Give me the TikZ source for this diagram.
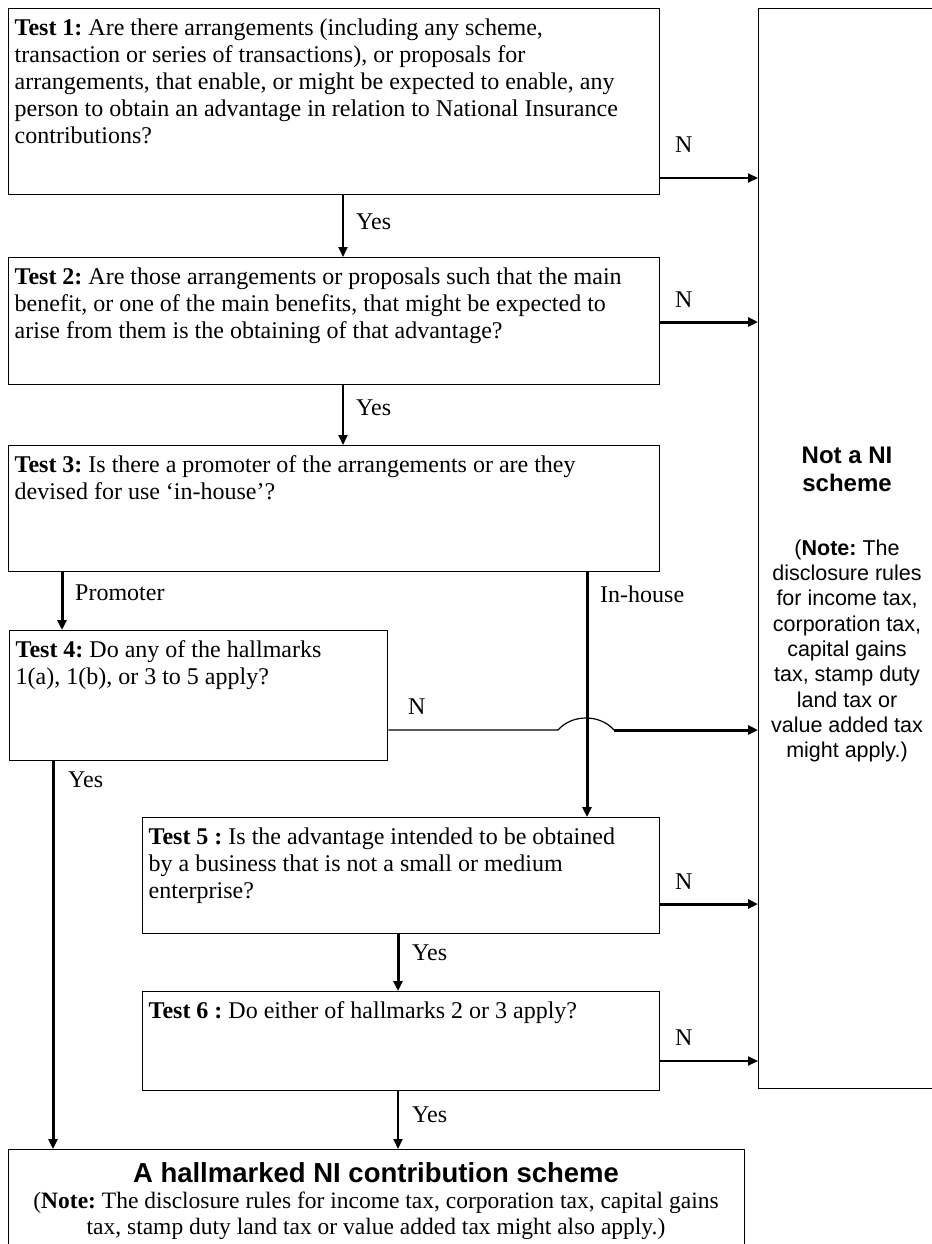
\documentclass[tikz,border=0pt]{standalone}
\usepackage{fontspec}
\setmainfont{Liberation Serif}
\setsansfont{Liberation Sans}
\usetikzlibrary{arrows.meta}
\frenchspacing

\newcommand{\boxlw}{1.4pt}
\newcommand{\tb}{\node[tbox]}
\newcommand{\lb}{\node[lbl]}
\newcommand{\qtext}[3]{\parbox[c][\dimexpr#2pt-20pt\relax][t]{\dimexpr#1pt-12pt\relax}{\raggedright #3}}

\tikzset{
    tbox/.style={draw, line width=\boxlw, anchor=north west, inner xsep=6pt, inner ysep=10pt},
    obox/.style={draw, line width=\boxlw, anchor=north west, inner sep=0pt},
    lbl/.style={anchor=west, inner sep=0pt},
    conn/.style={line width=2pt, -{Triangle[length=10pt,width=9pt]}},
    heavy/.style={conn, line width=3pt},
}

\begin{document}
\begin{tikzpicture}[x=1pt, y=-1pt, font=\fontsize{24}{27}\selectfont]
            \useasboundingbox (0,0) rectangle (931,1244);

            \tb (t1) at (8,8) {\qtext{651}{186}{\textbf{Test 1:} Are there arrangements (including any scheme,\\
                transaction or series of transactions), or proposals for\\
                arrangements, that enable, or might be expected to enable, any\\
                person to obtain an advantage in relation to National Insurance\\
                contributions?}};
            \tb (t2) at (8,257) {\qtext{651}{127}{\textbf{Test 2:} Are those arrangements or proposals such that the main\\
                benefit, or one of the main benefits, that might be expected to\\
                arise from them is the obtaining of that advantage?}};
            \tb (t3) at (8,445) {\qtext{651}{126}{\textbf{Test 3:} Is there a promoter of the arrangements or are they\\
                devised for use ‘in-house’?}};
            \tb (t4) at (9,630) {\qtext{378}{130}{\textbf{Test 4:} Do any of the hallmarks\\
                1(a), 1(b), or 3 to 5 apply?}};
            \tb (t5) at (142,817) {\qtext{517}{116}{\textbf{Test 5 :} Is the advantage intended to be obtained\\
                by a business that is not a small or medium\\
                enterprise?}};
            \tb (t6) at (142,991) {\qtext{517}{99}{\textbf{Test 6 :} Do either of hallmarks 2 or 3 apply?}};

            % outcomes
            \node[obox, minimum width=180pt, minimum height=1080pt] (nb) at (758,8) {};
            \node[align=center, font=\sffamily\bfseries\fontsize{24}{28}\selectfont] (nbh) at (847,469) {Not a NI\\ scheme};
            \node[align=center, font=\sffamily\fontsize{21.5}{25.3}\selectfont] (nbt) at (847,651) {(\textbf{Note:} The\\
                disclosure rules\\ for income tax,\\ corporation tax,\\ capital gains\\ tax, stamp duty\\
                land tax or\\ value added tax\\ might apply.)};
            \node[obox, minimum width=736pt, minimum height=120pt] (hm) at (8,1149) {};
            \node[font=\sffamily\bfseries\fontsize{27.5}{30}\selectfont] (hmh) at (376,1173) {A hallmarked NI contribution scheme};
            \node[align=center, font=\fontsize{23.5}{26}\selectfont] (hmt) at (376,1216) {(\textbf{Note:} The disclosure rules for income tax, corporation tax, capital gains\\
                tax, stamp duty land tax or value added tax might also apply.)};

            \coordinate (c1) at (343,0);
            \coordinate (c2) at (62,0);
            \coordinate (c3) at (587,0);
            \coordinate (c4) at (398,0);
            \coordinate (c5) at (53,0);
            \coordinate (h1) at (0,178);
            \coordinate (h2) at (0,322);
            \coordinate (h4) at (0,730);
            \coordinate (h5) at (0,904);
            \coordinate (h6) at (0,1061);
            \coordinate (hopa) at (558,730);
            \coordinate (hopb) at (614,730);

            \draw[conn] (t1.south -| c1) -- (t2.north -| c1);
            \draw[conn] (t2.south -| c1) -- (t3.north -| c1);
            \draw[heavy] (t3.south -| c2) -- (t4.north -| c2);
            \draw[heavy] (t3.south -| c3) -- (t5.north -| c3);
            \draw[heavy] (t4.south -| c5) -- (hm.north -| c5);
            \draw[heavy] (t5.south -| c4) -- (t6.north -| c4);
            \draw[conn] (t6.south -| c4) -- (hm.north -| c4);

            \draw[conn] (t1.east |- h1) -- (nb.west |- h1);
            \draw[heavy] (t2.east |- h2) -- (nb.west |- h2);
            \draw[line width=1.2pt] (t4.east |- h4) -- (hopa) .. controls (572,714) and (600,714) .. (hopb);
            \draw[heavy] (hopb) -- (nb.west |- h4);
            \draw[heavy] (t5.east |- h5) -- (nb.west |- h5);
            \draw[conn] (t6.east |- h6) -- (nb.west |- h6);

            \lb (ln1) at (675,145) {N};
            \lb (ln2) at (675,300) {N};
            \lb (ln4) at (408,707) {N};
            \lb (ln5) at (675,882) {N};
            \lb (ln6) at (675,1038) {N};
            \lb (ly1) at (356,222) {Yes};
            \lb (ly2) at (356,408) {Yes};
            \lb (ly4) at (68,780) {Yes};
            \lb (ly5) at (412,953) {Yes};
            \lb (ly6) at (412,1115) {Yes};
            \lb (lp) at (75,593) {Promoter};
            \lb (li) at (600,594) {In-house};
        \end{tikzpicture}
\end{document}
